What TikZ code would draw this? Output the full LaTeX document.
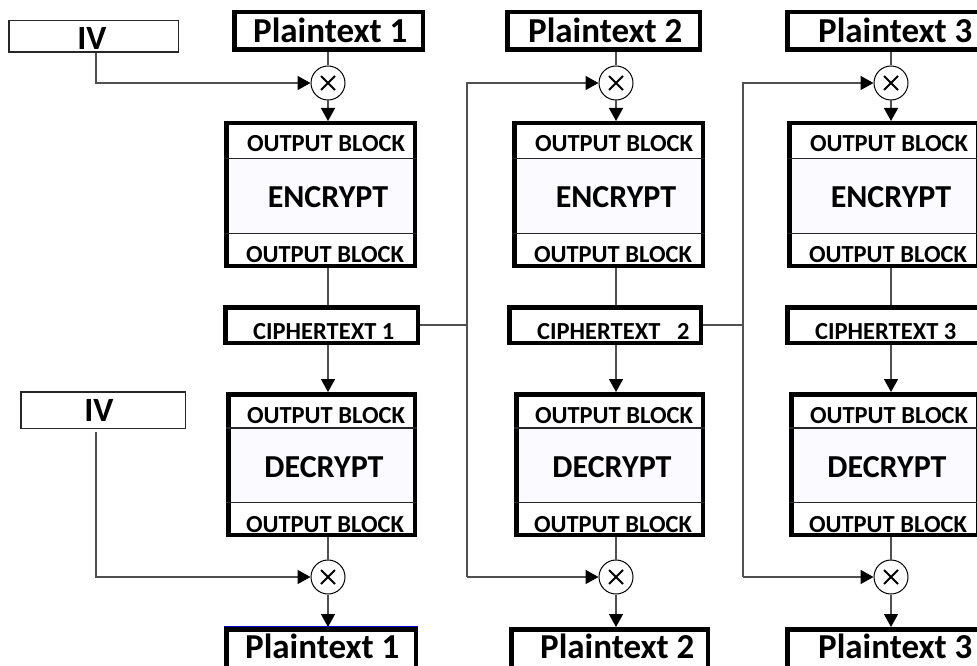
\documentclass[tikz,border=0pt]{standalone}
\usepackage{fontspec}
\setmainfont{Carlito}
\usetikzlibrary{arrows.meta}
\definecolor{wirec}{HTML}{505050}
\definecolor{midfill}{HTML}{FBFAFE}
\begin{document}
\begin{tikzpicture}[x=1pt,y=-1pt,
  thickbox/.style={draw=black, line width=4.5pt, rectangle, inner sep=0pt, fill=white},
  thinbox/.style={draw=black!85, line width=1.5pt, rectangle, inner sep=0pt, fill=white},
  xorc/.style={circle, draw=black, line width=1pt, minimum size=34pt, inner sep=0pt, fill=white,
    path picture={
      \draw[line width=2pt] ([shift={(-7pt,-7pt)}]path picture bounding box.center) -- ([shift={(7pt,7pt)}]path picture bounding box.center);
      \draw[line width=2pt] ([shift={(-7pt,7pt)}]path picture bounding box.center) -- ([shift={(7pt,-7pt)}]path picture bounding box.center);}},
  wire/.style={draw=wirec, line width=1.5pt},
  arr/.style={wire, -{Triangle[length=13pt,width=14pt,color=black]}},
  divline/.style={draw=black!85, line width=1.4pt},
  ptext/.style={font=\fontsize{35}{38}\selectfont\bfseries, inner sep=0pt},
  ivtext/.style={font=\fontsize{34}{36}\selectfont\bfseries, inner sep=0pt},
  obtext/.style={font=\fontsize{24.5}{26}\selectfont\bfseries, inner sep=0pt},
  bigtext/.style={font=\fontsize{32}{34}\selectfont\bfseries, inner sep=0pt},
  ctext/.style={font=\fontsize{24.5}{26}\selectfont\bfseries, inner sep=0pt}
]
\useasboundingbox (0,0) rectangle (977,666);
\clip (0,0) rectangle (977,666);
\fill[white] (0,0) rectangle (977,666);

% IV boxes
\node[thinbox, minimum width=169.5pt, minimum height=31.5pt] (iv1) at (93.5,36.5) {};
\node[ivtext, anchor=base] (iv1t) at (92,50) {IV};
\node[thinbox, minimum width=164.5pt, minimum height=36.5pt] (iv2) at (103,410) {};
\node[ivtext, anchor=base] (iv2t) at (99,421) {IV};

\foreach \i/\L/\PTL/\PTR/\PTX/\PBL/\PBR/\PBX/\CL/\CR/\CX/\CS in
  {1/224/232/425/253/224/418/245/223/420/253/{CIPHERTEXT 1},
   2/512/505/702/528/509/710/540/507/703/537/{CIPHERTEXT\ \ \ 2},
   3/787/785/985/818/785/985/818/785/985/815/{CIPHERTEXT 3}}
{
  \pgfmathsetmacro\XX{\L+104}
  % plaintext top
  \node[thickbox, minimum width={\PTR-\PTL-4.5}, minimum height=37.5pt] (pt\i) at ({(\PTL+\PTR)/2},31) {};
  \node[ptext, anchor=base west] (ptt\i) at (\PTX,43) {Plaintext \i};
  % xors
  \node[xorc] (xt\i) at (\XX,83) {};
  \node[xorc] (xb\i) at (\XX,577) {};
  % encrypt block
  \fill[midfill] (\L+4.5,158.5) rectangle (\L+188.5,233.5);
  \node[thickbox, fill=none, minimum width=188.5pt, minimum height=142.5pt] (enc\i) at (\L+96.5,194.5) {};
  \draw[divline] (enc\i.west |- 0,158.5) -- (enc\i.east |- 0,158.5);
  \draw[divline] (enc\i.west |- 0,233.5) -- (enc\i.east |- 0,233.5);
  \node[obtext, anchor=base] (eot\i) at (\L+102,151) {OUTPUT BLOCK};
  \node[bigtext, anchor=base] (ent\i) at (\L+104,207) {ENCRYPT};
  \node[obtext, anchor=base] (eob\i) at (\L+101,262) {OUTPUT BLOCK};
  % ciphertext
  \node[thickbox, minimum width={\CR-\CL-4.5}, minimum height=35.5pt] (c\i) at ({(\CL+\CR)/2},325) {};
  \node[ctext, anchor=base west] (ct\i) at (\CX,339) {\CS};
  % decrypt block
  \fill[midfill] (\L+6.5,428) rectangle (\L+188.5,502.5);
  \node[thickbox, fill=none, minimum width=186.5pt, minimum height=140.5pt] (dec\i) at (\L+97.5,464.5) {};
  \draw[divline] (dec\i.west |- 0,428) -- (dec\i.east |- 0,428);
  \draw[divline] (dec\i.west |- 0,502.5) -- (dec\i.east |- 0,502.5);
  \node[obtext, anchor=base] (dot\i) at (\L+102,423) {OUTPUT BLOCK};
  \node[bigtext, anchor=base] (det\i) at (\L+100,477) {DECRYPT};
  \node[obtext, anchor=base] (dob\i) at (\L+101,532) {OUTPUT BLOCK};
  % plaintext bottom
  \node[thickbox, minimum width={\PBR-\PBL-4.5}, minimum height=40.5pt] (pb\i) at ({(\PBL+\PBR)/2},649.5) {};
  \node[ptext, anchor=base west] (pbt\i) at (\PBX,658) {Plaintext \i};
  % vertical connectors
  \draw[wire] (xt\i |- pt\i.south) -- (xt\i.north);
  \draw[arr] (xt\i.south) -- (xt\i |- enc\i.north);
  \draw[wire] (xt\i |- enc\i.south) -- (xt\i |- c\i.north);
  \draw[arr] (xt\i |- c\i.south) -- (xt\i |- dec\i.north);
  \draw[wire] (xb\i |- dec\i.south) -- (xb\i.north);
  \draw[arr] (xb\i.south) -- (xb\i |- pb\i.north);
}

% blue edge on bottom plaintext 1
\draw[blue!85!black, line width=1.2pt] ([yshift=0.6pt]pb1.north west) -- ([yshift=0.6pt]pb1.north east);

% IV connectors
\draw[arr] ([xshift=2.5pt]iv1.south) |- (xt1);
\draw[arr] ([xshift=-7pt,yshift=-3pt]iv2.south) |- (xb1);

% chaining buses
\coordinate (bt1) at (467,83);
\coordinate (bb1) at (467,577);
\coordinate (bt2) at (743,83);
\coordinate (bb2) at (743,577);
\draw[wire] (c1.east) -- (c1.east -| bt1);
\draw[arr] (bb1) -- (bt1) -- (xt2);
\draw[arr] (bb1) -- (xb2);
\draw[wire] (c2.east) -- (c2.east -| bt2);
\draw[arr] (bb2) -- (bt2) -- (xt3);
\draw[arr] (bb2) -- (xb3);
\end{tikzpicture}
\end{document}
